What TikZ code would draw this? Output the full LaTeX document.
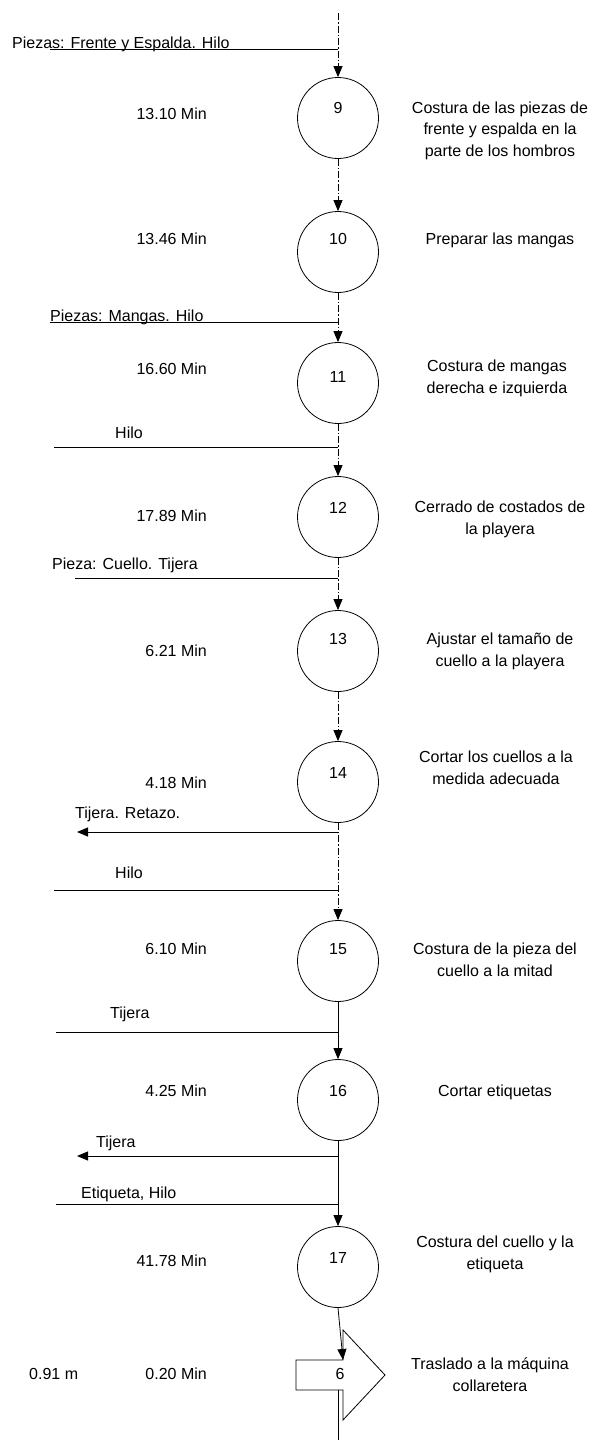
\documentclass[tikz,border=0pt]{standalone}
\usepackage{fontspec}
\setmainfont{Liberation Sans}
\usetikzlibrary{arrows.meta}
\begin{document}
\begin{tikzpicture}[x=1pt,y=-1pt,
  proc/.style={draw, circle, minimum size=81pt, inner sep=0pt, line width=0.8pt},
  txt/.style={font=\fontsize{16}{21.5}\selectfont, inner sep=0pt, anchor=base},
  tleft/.style={txt, anchor=base west},
  tright/.style={txt, anchor=base east},
  desc/.style={txt, align=center},
  flow/.style={line width=0.8pt, -{Triangle[width=9pt,length=11pt]}},
  dflow/.style={flow, dash pattern=on 7pt off 2pt on 1.5pt off 2pt},
  feed/.style={line width=1pt},
  outf/.style={line width=1pt, -{Triangle[width=9pt,length=11pt]}}
]
\fill[white] (0,0) rectangle (599,1443);
\useasboundingbox (0,0) rectangle (599,1443);

% process circles
\node[proc] (c9)  at (338,118)  {};
\node[proc] (c10) at (338,252)  {};
\node[proc] (c11) at (338,383)  {};
\node[proc] (c12) at (338,517)  {};
\node[proc] (c13) at (338,651)  {};
\node[proc] (c14) at (338,782)  {};
\node[proc] (c15) at (338,961)  {};
\node[proc] (c16) at (338,1100) {};
\node[proc] (c17) at (338,1267) {};

% numbers
\node[txt] (n9)  at (338,113)  {9};
\node[txt] (n10) at (338,244)  {10};
\node[txt] (n11) at (338,382)  {11};
\node[txt] (n12) at (338,513)  {12};
\node[txt] (n13) at (338,644)  {13};
\node[txt] (n14) at (338,778)  {14};
\node[txt] (n15) at (338,954)  {15};
\node[txt] (n16) at (338,1096) {16};
\node[txt] (n17) at (338,1263) {17};

% times
\node[tright] (t9)  at (207,119)  {13.10 Min};
\node[tright] (t10) at (207,244)  {13.46 Min};
\node[tright] (t11) at (207,374)  {16.60 Min};
\node[tright] (t12) at (207,521)  {17.89 Min};
\node[tright] (t13) at (207,656)  {6.21 Min};
\node[tright] (t14) at (207,788)  {4.18 Min};
\node[tright] (t15) at (207,954)  {6.10 Min};
\node[tright] (t16) at (207,1096) {4.25 Min};
\node[tright] (t17) at (207,1266) {41.78 Min};
\node[tright] (t6)  at (207,1379) {0.20 Min};
\node[tleft]  (d6)  at (29,1379)  {0.91 m};

% descriptions (base = baseline of last line)
\node[desc] (e9)  at (500,156)  {Costura de las piezas de\\frente y espalda en la\\parte de los hombros};
\node[desc] (e10) at (500,244)  {Preparar las mangas};
\node[desc] (e11) at (497,393)  {Costura de mangas\\derecha e izquierda};
\node[desc] (e12) at (500,534)  {Cerrado de costados de\\la playera};
\node[desc] (e13) at (500,666)  {Ajustar el tama\~no de\\cuello a la playera};
\node[desc] (e14) at (496,784)  {Cortar los cuellos a la\\medida adecuada};
\node[desc] (e15) at (495,976)  {Costura de la pieza del\\cuello a la mitad};
\node[desc] (e16) at (495,1096) {Cortar etiquetas};
\node[desc] (e17) at (495,1269) {Costura del cuello y la\\etiqueta};
\node[desc] (e6)  at (490,1391) {Traslado a la m\'aquina\\collaretera};

% transport symbol
\draw[line width=0.8pt] (296,1360) -- (343,1360) -- (343,1330) -- (385,1375)
  -- (343,1420) -- (343,1390) -- (296,1390) -- cycle;
\node[txt] (s6) at (340,1379) {6};
\coordinate (s6top) at (343,1360);
\coordinate (s6bot) at (338,1390);
\coordinate (bend) at (338,1440);

% main flow
\coordinate (top) at (338,13);
\draw[dflow] (top) -- (c9.north);
\draw[dflow] (c9.south) -- (c10.north);
\draw[dflow] (c10.south) -- (c11.north);
\draw[dflow] (c11.south) -- (c12.north);
\draw[dflow] (c12.south) -- (c13.north);
\draw[dflow] (c13.south) -- (c14.north);
\draw[dflow] (c14.south) -- (c15.north);
\draw[flow] (c15.south) -- (c16.north);
\draw[flow] (c16.south) -- (c17.north);
\draw[flow] (c17.south) -- (s6top);
\draw[line width=0.8pt] (s6bot) -- (bend);

% inputs and outputs
\coordinate (j1) at (338,49);   \coordinate (l1) at (50,49);
\coordinate (j2) at (338,322);  \coordinate (l2) at (50,322);
\coordinate (j3) at (338,447);  \coordinate (l3) at (54,447);
\coordinate (j4) at (338,578);  \coordinate (l4) at (75,578);
\coordinate (j5) at (338,832);  \coordinate (l5) at (77,832);
\coordinate (j6) at (338,890);  \coordinate (l6) at (54,890);
\coordinate (j7) at (338,1032); \coordinate (l7) at (56,1032);
\coordinate (j8) at (338,1156); \coordinate (l8) at (77,1156);
\coordinate (j9) at (338,1204); \coordinate (l9) at (56,1204);

\draw[feed] (l1) -- (j1);
\draw[feed] (l2) -- (j2);
\draw[feed] (l3) -- (j3);
\draw[feed] (l4) -- (j4);
\draw[outf] (j5) -- (l5);
\draw[feed] (l6) -- (j6);
\draw[feed] (l7) -- (j7);
\draw[outf] (j8) -- (l8);
\draw[feed] (l9) -- (j9);

\node[tleft] (m1) at (12,48)   {Piezas: Frente y Espalda. Hilo};
\node[tleft] (m2) at (50,321)  {Piezas: Mangas. Hilo};
\node[tleft] (m3) at (115,438) {Hilo};
\node[tleft] (m4) at (52,569)  {Pieza: Cuello. Tijera};
\node[tleft] (m5) at (75,818)  {Tijera. Retazo.};
\node[tleft] (m6) at (115,878) {Hilo};
\node[tleft] (m7) at (110,1018) {Tijera};
\node[tleft] (m8) at (96,1147) {Tijera};
\node[tleft] (m9) at (81,1198) {Etiqueta, Hilo};
\end{tikzpicture}
\end{document}
